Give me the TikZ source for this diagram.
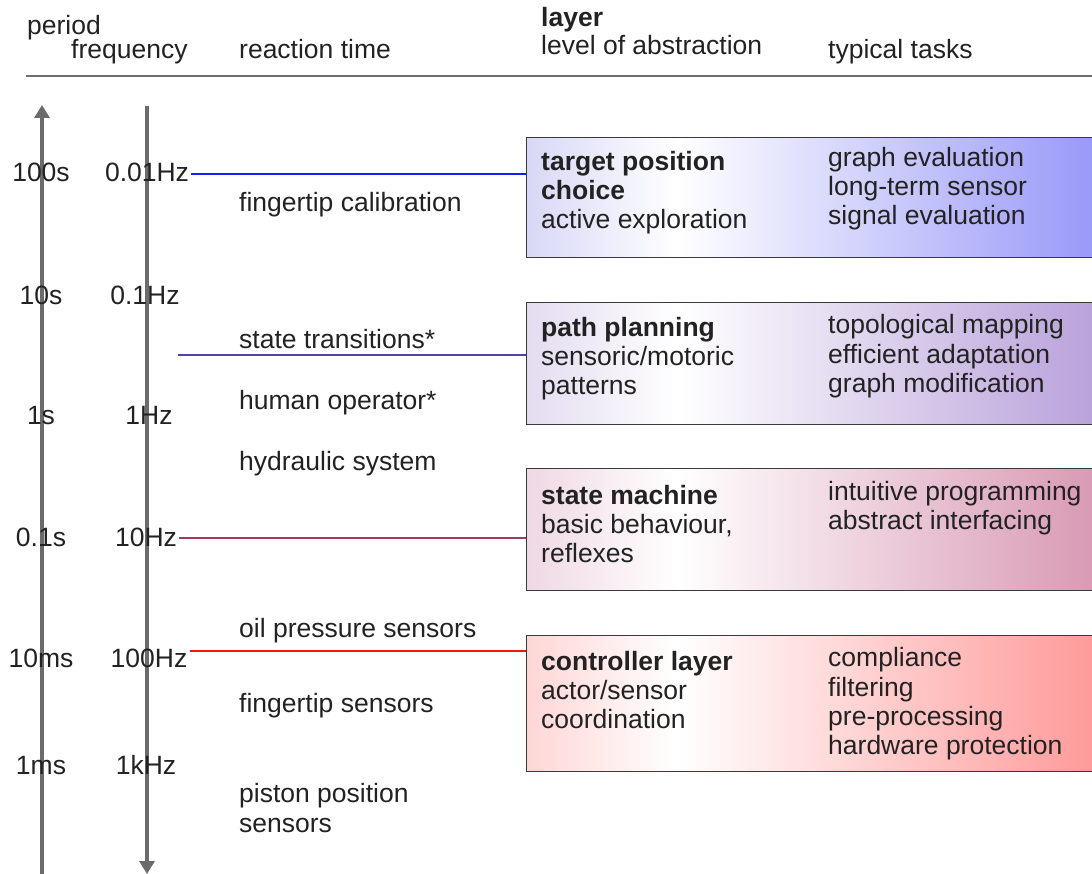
\documentclass[tikz,border=0pt]{standalone}
\usepackage{fontspec}
\setmainfont{Liberation Sans}
\usetikzlibrary{arrows.meta}

\definecolor{txt}{HTML}{222222}
\definecolor{axisgray}{HTML}{6B6B6B}
\definecolor{rulegray}{HTML}{707070}
\definecolor{boxedge}{HTML}{3A3A3A}
\definecolor{lnblue}{HTML}{1A1AFF}
\definecolor{lnpurple}{HTML}{5444A2}
\definecolor{lnmaroon}{HTML}{A03A62}
\definecolor{lnred}{HTML}{FF1414}

\definecolor{bAl}{HTML}{D8D8F7}\definecolor{bAr}{HTML}{9696F8}
\definecolor{bBl}{HTML}{E3DCF0}\definecolor{bBr}{HTML}{B79FD9}
\definecolor{bCl}{HTML}{EFD8E3}\definecolor{bCr}{HTML}{D797B2}
\definecolor{bDl}{HTML}{FFD6D6}\definecolor{bDr}{HTML}{FF9797}

% horizontal shadings: the box spans 25bp..75bp of each shading
\pgfdeclarehorizontalshading{shA}{100bp}{color(0bp)=(bAl); color(25bp)=(bAl); color(38bp)=(white); color(75bp)=(bAr); color(100bp)=(bAr)}
\pgfdeclarehorizontalshading{shB}{100bp}{color(0bp)=(bBl); color(25bp)=(bBl); color(38bp)=(white); color(75bp)=(bBr); color(100bp)=(bBr)}
\pgfdeclarehorizontalshading{shC}{100bp}{color(0bp)=(bCl); color(25bp)=(bCl); color(38bp)=(white); color(75bp)=(bCr); color(100bp)=(bCr)}
\pgfdeclarehorizontalshading{shD}{100bp}{color(0bp)=(bDl); color(25bp)=(bDl); color(38bp)=(white); color(75bp)=(bDr); color(100bp)=(bDr)}

\newcommand\txtsize{\fontsize{26.5}{29}\selectfont}

\tikzset{
  lbl/.style={anchor=base, inner sep=0pt, text=txt, font=\txtsize},
  lt/.style={anchor=base west, inner sep=0pt, text=txt, font=\txtsize},
  ltb/.style={lt, font=\txtsize\bfseries},
  axisline/.style={line width=4pt, draw=axisgray},
  axishead/.style={-{Triangle[width=15pt,length=13pt]}},
  layerbox/.style={draw=boxedge, line width=1.3pt, anchor=north west,
    minimum width=580pt, inner sep=0pt},
  link/.style={line width=2pt},
}

\begin{document}
\begin{tikzpicture}[x=1pt, y=-1pt]
\useasboundingbox (0,0) rectangle (1092,874);

% column headings
\node[lt] (hper) at (27,35) {period};
\node[lt] (hfreq) at (71,59) {frequency};
\node[lt] (hreact) at (239,59) {reaction time};
\node[ltb] (hlayer) at (541,27) {layer};
\node[lt] (hlevel) at (541,55) {level of abstraction};
\node[lt] (htasks) at (828,59) {typical tasks};
\coordinate (ruleL) at (26,76);
\coordinate (ruleR) at (1092,76);
\draw[draw=rulegray, line width=1.6pt] (ruleL) -- (ruleR);

% period and frequency axes
\coordinate (perBot) at (42,878);
\coordinate (perTop) at (42,105);
\coordinate (freqTop) at (147,106);
\coordinate (freqBot) at (147,874);
\draw[axisline, axishead] (perBot) -- (perTop);
\draw[axisline, axishead] (freqTop) -- (freqBot);

% axis labels
\node[lbl] (p100) at (41,182) {100s};
\node[lbl] (p10) at (41,305) {10s};
\node[lbl] (p1) at (41,424) {1s};
\node[lbl] (p01) at (41,546) {0.1s};
\node[lbl] (p10m) at (41,667) {10ms};
\node[lbl] (p1m) at (41,774) {1ms};
\node[lbl] (f001) at (147,182) {0.01Hz};
\node[lbl] (f01) at (145,305) {0.1Hz};
\node[lbl] (f1) at (149,424) {1Hz};
\node[lbl] (f10) at (146,546) {10Hz};
\node[lbl] (f100) at (149,667) {100Hz};
\node[lbl] (f1k) at (146,774) {1kHz};

% reaction times
\node[lt] (rt1) at (239,212) {fingertip calibration};
\node[lt] (rt2) at (239,349) {state transitions*};
\node[lt] (rt3) at (239,409) {human operator*};
\node[lt] (rt4) at (239,470) {hydraulic system};
\node[lt] (rt5) at (239,637) {oil pressure sensors};
\node[lt] (rt6) at (239,712) {fingertip sensors};
\node[lt] (rt7a) at (239,802) {piston position};
\node[lt] (rt7b) at (239,832) {sensors};

% layer boxes
\node[layerbox, shading=shA, minimum height=120pt] (bA) at (526,137) {};
\node[layerbox, shading=shB, minimum height=122pt] (bB) at (526,302) {};
\node[layerbox, shading=shC, minimum height=122pt] (bC) at (526,468) {};
\node[layerbox, shading=shD, minimum height=136pt] (bD) at (526,635) {};

% box contents
\node[ltb] (bA1) at (541,171) {target position};
\node[ltb] (bA2) at (541,200) {choice};
\node[lt]  (bA3) at (541,229) {active exploration};
\node[lt]  (tA1) at (828,167) {graph evaluation};
\node[lt]  (tA2) at (828,196) {long-term sensor};
\node[lt]  (tA3) at (828,225) {signal evaluation};

\node[ltb] (bB1) at (541,337) {path planning};
\node[lt]  (bB2) at (541,366) {sensoric/motoric};
\node[lt]  (bB3) at (541,395) {patterns};
\node[lt]  (tB1) at (828,334) {topological mapping};
\node[lt]  (tB2) at (828,363) {efficient adaptation};
\node[lt]  (tB3) at (828,392) {graph modification};

\node[ltb] (bC1) at (541,504) {state machine};
\node[lt]  (bC2) at (541,533) {basic behaviour,};
\node[lt]  (bC3) at (541,562) {reflexes};
\node[lt]  (tC1) at (828,500) {intuitive programming};
\node[lt]  (tC2) at (828,529) {abstract interfacing};

\node[ltb] (bD1) at (541,670) {controller layer};
\node[lt]  (bD2) at (541,699) {actor/sensor};
\node[lt]  (bD3) at (541,728) {coordination};
\node[lt]  (tD1) at (828,666) {compliance};
\node[lt]  (tD2) at (828,696) {filtering};
\node[lt]  (tD3) at (828,725) {pre-processing};
\node[lt]  (tD4) at (828,754) {hardware protection};

% links from the time scale to the layers
\coordinate (stStart) at (178,355);
\draw[link, draw=lnblue] ([xshift=2pt]f001.east |- 0,174) -- (bA.west |- 0,174);
\draw[link, draw=lnpurple] (stStart) -- (bB.west |- stStart);
\draw[link, draw=lnmaroon] ([xshift=2pt]f10.east |- 0,538) -- (bC.west |- 0,538);
\draw[link, draw=lnred] ([xshift=2pt]f100.east |- 0,651) -- (bD.west |- 0,651);
\end{tikzpicture}
\end{document}
